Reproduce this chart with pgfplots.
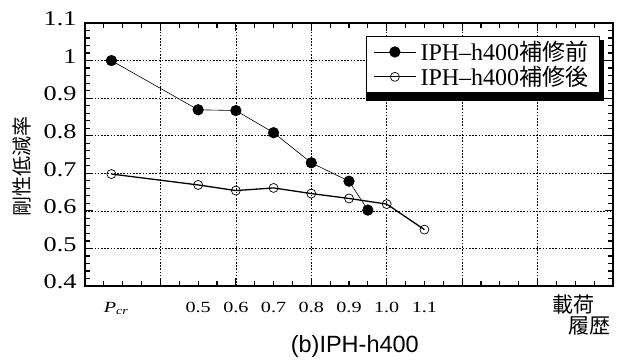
\documentclass[border=0pt]{standalone}
\usepackage{fontspec}
\usepackage{graphicx}
\usepackage{pgfplots}
\pgfplotsset{compat=1.18}
\setmainfont{Liberation Serif}
\newfontfamily\cjk{Noto Sans CJK JP}
\newfontfamily\capfont{Liberation Sans}
\newcommand\yl[1]{\scalebox{1.25}[1]{#1}}
\newcommand\xl[1]{\scalebox{1.3}[1]{#1}}
\begin{document}
\begin{tikzpicture}
\useasboundingbox (-85pt,-75pt) rectangle (539pt,286pt);
\begin{axis}[
  at={(0pt,0pt)}, anchor=south west,
  scale only axis, width=528pt, height=263pt,
  xmin=0.2, xmax=1.6, ymin=0.4, ymax=1.1,
  xtick={0.2,0.4,0.6,0.8,1.0,1.2,1.4,1.6},
  xticklabels={},
  minor x tick num=3,
  ytick={0.4,0.5,0.6,0.7,0.8,0.9,1.0,1.1},
  yticklabels={\yl{0.4},\yl{0.5},\yl{0.6},\yl{0.7},\yl{0.8},\yl{0.9},\yl{1},\yl{1.1}},
  minor y tick num=4,
  tick pos=both, tick align=inside,
  major tick length=8pt, minor tick length=5pt,
  major tick style={black, line width=1.2pt},
  minor tick style={black, line width=1.2pt},
  grid=major,
  major grid style={black, line width=0.7pt, dash pattern=on 1.6pt off 1.6pt},
  axis line style={line width=1.2pt},
  yticklabel style={font=\fontsize{21}{21}\selectfont, xshift=-5pt, yshift=4pt},
  extra x ticks={0.283,0.5,0.6,0.7,0.8,0.9,1.0,1.1},
  extra x tick labels={\xl{\textit{P}\textsubscript{\textit{cr}}},\xl{0.5},\xl{0.6},\xl{0.7},\xl{0.8},\xl{0.9},\xl{1.0},\xl{1.1}},
  extra x tick style={grid=none, major tick length=0pt,
    xticklabel style={font=\fontsize{15.5}{15.5}\selectfont, yshift=-13pt}},
  legend cell align=left,
  legend style={at={(axis description cs:0.975,0.951)}, anchor=north east,
    draw=black, line width=1.2pt, fill=white,
    font=\fontsize{24}{24}\selectfont, inner xsep=7pt, inner ysep=3pt,
    nodes={inner xsep=4pt}},
  legend image code/.code={\draw[mark repeat=2,mark phase=2,#1] plot coordinates {(0pt,0pt) (21pt,0pt) (42pt,0pt)};},
  clip=false,
]
\addplot[black, line width=0.6pt, mark=*, mark size=5.3pt, mark options={solid, fill=black, line width=0.6pt}]
  coordinates {(0.27,1.0)(0.5,0.869)(0.6,0.867)(0.7,0.808)(0.8,0.728)(0.9,0.679)(0.95,0.602)};
\addlegendentry{{\rmfamily IPH--h400}{\cjk\fontsize{23}{24}\selectfont 補修前}}
\addplot[black, line width=1.3pt, mark=o, mark size=4.5pt, mark options={solid, fill=white, line width=0.7pt}]
  coordinates {(0.27,0.698)(0.5,0.669)(0.6,0.654)(0.7,0.661)(0.8,0.646)(0.9,0.633)(1.0,0.618)(1.1,0.55)};
\addlegendentry{{\rmfamily IPH--h400}{\cjk\fontsize{23}{24}\selectfont 補修後}}
% drop shadow of the legend box (drawn before the legend, which covers it)
\fill[black] ([xshift=4pt,yshift=-4pt]rel axis cs:0.5246,0.7186) rectangle ([xshift=4pt,yshift=-4pt]rel axis cs:0.975,0.951);
\node[rotate=90, font=\cjk\fontsize{20}{20}\selectfont] at (rel axis cs:-0.12,0.454) {剛性低減率};
\node[font=\cjk\fontsize{21}{21}\selectfont] at (rel axis cs:0.926,-0.072) {載荷};
\node[font=\cjk\fontsize{21}{21}\selectfont] at (rel axis cs:0.956,-0.152) {履歴};
\node[font=\capfont\fontsize{23.5}{23.5}\selectfont] at (rel axis cs:0.511,-0.228) {(b)IPH-h400};
\end{axis}
\end{tikzpicture}
\end{document}
